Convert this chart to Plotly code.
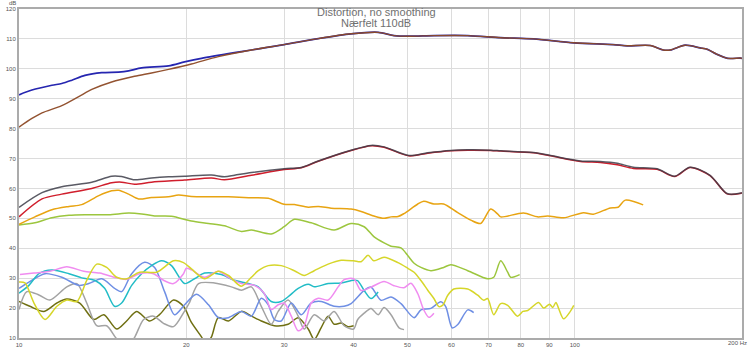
import plotly.graph_objects as go

# ---- data (frequency in Hz, level in dB) ----
blue_f = [10, 10.55, 11.46, 11.94, 12.45, 13.14, 14.09, 15.11, 15.75, 16.62, 18.58, 19.86, 21.3, 24.42, 26.19,
          30, 34.56, 39.59, 44.28, 47.3, 50.3, 55.8, 64.2, 73.6, 84.3, 99.6, 117.3, 124.3, 136.7, 144.3,
          148.6, 158.0, 168.1, 173.3, 180.0, 188.5, 198.5, 200]
blue_db = [91.3, 92.9, 94.5, 95.1, 96.2, 97.8, 98.7, 98.9, 99.3, 100.3, 101.0, 102.3, 103.5, 105.4, 106.3,
           108.1, 110.1, 111.7, 112.2, 111.1, 110.9, 111.1, 111.1, 110.4, 110.0, 108.7, 108.1, 107.7, 107.8, 106.3,
           106.3, 107.9, 107.0, 106.5, 104.9, 103.5, 103.6, 103.5]

brown_f = [10, 10.55, 11.0, 11.94, 12.81, 13.52, 14.68, 16.14, 17.32, 18.58, 20.43, 22.84, 26.19,
           30, 34.56, 39.59, 44.28, 47.3, 50.3, 55.8, 64.2, 73.6, 84.3, 99.6, 117.3, 124.3, 136.7, 144.3,
           148.6, 158.0, 168.1, 173.3, 180.0, 188.5, 198.5, 200]
brown_db = [80.5, 83.4, 85.3, 87.7, 90.7, 93.1, 95.6, 97.5, 98.6, 99.8, 101.6, 104.1, 106.3,
            108.1, 110.1, 111.7, 112.2, 111.1, 110.9, 111.1, 111.1, 110.4, 110.0, 108.7, 108.1, 107.7, 107.8, 106.3,
            106.3, 107.9, 107.0, 106.5, 104.9, 103.5, 103.6, 103.5]

thd_f = [10, 11.0, 11.94, 13.52, 14.68, 15.3, 16.14, 17.32, 18.58, 19.86, 22.2, 23.42, 24.42, 26.19, 30,
         32.2, 34.56, 39.59, 43.0, 45.39, 50.3, 54.4, 59.84, 64.2, 70.6, 73.6, 84.3, 90.5, 102.4, 111.2,
         119.3, 127.5, 140.7, 151.3, 161.3, 175.2, 188.0, 198.5, 200]
thd_db = [53.7, 58.6, 60.6, 62.1, 64.1, 64.0, 62.9, 63.5, 63.9, 64.1, 64.5, 63.9, 64.4, 65.3, 66.6,
          67.0, 69.2, 72.8, 74.4, 73.9, 71.0, 71.9, 72.7, 72.9, 72.8, 72.6, 72.0, 71.0, 69.2, 69.0,
          68.4, 67.1, 66.6, 64.1, 67.1, 64.4, 58.3, 58.4, 58.6]

h2_f = [10, 11.0, 11.94, 13.52, 14.68, 15.3, 16.14, 17.32, 19.86, 22.2, 23.42, 26.19, 30, 32.2, 34.56,
        39.59, 43.0, 45.39, 50.3, 54.4, 59.84, 64.2, 70.6, 73.6, 84.3, 90.5, 102.4, 111.2, 119.3, 127.5,
        140.7, 151.3, 161.3, 175.2, 188.0, 198.5, 200]
h2_db = [50.5, 56.5, 58.1, 60.0, 61.9, 62.1, 61.4, 62.1, 62.8, 63.5, 62.9, 64.4, 66.3, 66.9, 69.1,
         72.7, 74.3, 73.8, 70.9, 71.8, 72.6, 72.8, 72.7, 72.5, 71.9, 70.9, 69.0, 68.7, 67.9, 66.7,
         66.4, 64.0, 67.0, 64.3, 58.2, 58.3, 58.5]

h3_f = [10, 10.68, 11.46, 12.3, 12.97, 13.92, 14.68, 15.11, 15.75, 16.41, 17.32, 18.58, 19.37, 20.43, 21.93,
        23.81, 26.19, 28.09, 30, 31.3, 33.15, 34.56, 36.45, 39.59, 41.27, 43.5, 45.39, 46.71, 48.1, 49.3,
        52.2, 53.5, 55.8, 58.1, 61.6, 65.0, 67.74, 70.6, 72.7, 73.6, 80.9, 85.7, 89.4, 95.5, 103.7,
        108.0, 115.9, 119.7, 123.3, 132.8]
h3_db = [48.0, 50.5, 52.9, 54.0, 54.6, 57.6, 59.2, 59.4, 58.1, 56.5, 57.0, 57.2, 57.8, 57.3, 57.2,
         57.2, 56.9, 56.7, 54.7, 54.6, 53.7, 54.0, 53.4, 53.1, 52.3, 50.8, 50.0, 50.5, 50.6, 51.6,
         54.8, 55.7, 54.8, 54.8, 51.9, 49.4, 48.3, 53.1, 51.4, 50.5, 51.8, 50.5, 50.8, 50.2, 51.9,
         51.4, 53.5, 53.7, 56.1, 54.5]

h4_f = [10, 10.68, 11.46, 12.3, 13.14, 14.5, 15.75, 16.62, 17.54, 18.81, 20.43, 21.93, 23.42, 25.13, 26.19,
        28.44, 30, 31.3, 33.56, 36.9, 39.59, 41.79, 43.5, 45.39, 46.71, 48.68, 50.1, 51.4, 52.88, 55.11,
        58.1, 59.84, 64.2, 69.7, 71.5, 73.6, 75.75, 76.7, 79.6]
h4_db = [47.8, 48.5, 50.2, 51.0, 51.2, 51.2, 51.8, 51.5, 50.8, 50.7, 49.1, 48.3, 47.5, 45.6, 46.1,
         44.8, 47.2, 49.7, 48.5, 46.1, 48.3, 47.2, 43.9, 41.8, 40.7, 40.1, 37.5, 35.0, 33.6, 32.5,
         33.6, 34.5, 32.5, 29.8, 30.3, 35.8, 32.0, 30.3, 31.2]

h5_f = [10, 10.25, 10.64, 11.14, 11.70, 12.19, 12.71, 13.24, 13.80, 14.38, 14.99, 15.62, 16.48, 17.69, 18.97,
        19.77, 20.43, 21.57, 22.84, 23.81, 25.13, 26.19, 26.95, 28.09, 29.64, 31.3, 32.6, 33.98, 36.0, 37.99,
        40, 41.27, 42.47, 43.5, 45.39, 48.1, 50.1, 51.4, 52.88, 54.43, 55.8, 56.95, 57.9, 59.1, 60.6,
        64.2, 66.9, 68.6, 69.7, 71.5, 73.6, 75.75, 78.9, 80.7, 82.3, 86.1, 87.9, 90.1, 91.3, 92.5,
        93.5, 95.5, 98.2, 99.6]
h5_db = [28.7, 28.4, 21.7, 16.2, 20.6, 22.7, 22.2, 29.3, 34.7, 33.6, 30.3, 29.8, 32.0, 32.0, 35.8,
         35.2, 33.1, 29.8, 32.3, 30.9, 27.3, 30.3, 32.5, 34.2, 34.2, 32.5, 30.9, 32.5, 34.7, 36.0,
         35.8, 35.5, 37.7, 35.8, 37.0, 35.2, 33.3, 32.0, 29.2, 25.9, 23.2, 20.5, 21.0, 24.3, 26.4,
         26.4, 24.3, 22.6, 23.2, 17.8, 21.5, 20.9, 17.3, 18.9, 19.2, 21.9, 20.0, 21.3, 20.2, 21.9,
         20.0, 16.4, 18.9, 20.9]

h6_f = [10.04, 10.64, 11.37, 12.19, 13.08, 13.97, 14.99, 15.62, 16.48, 17.46, 18.2, 18.97, 19.77, 20, 20.43,
        21.57, 22.84, 23.81, 25.13, 26.52, 27.63, 28.44, 29.27, 30, 30.9, 31.8, 32.6, 33.56, 34.56, 36.0,
        37.52, 38.46, 40, 41.27, 43.0, 45.39, 47.29, 49.3, 50.74, 52.2, 53.5, 54.66, 55.8]
h6_db = [31.2, 31.7, 32.3, 33.8, 32.3, 31.7, 30.1, 29.6, 31.5, 31.5, 29.3, 28.2, 31.5, 33.3, 32.8,
         30.3, 32.3, 30.3, 28.2, 27.6, 24.9, 19.5, 21.1, 21.7, 17.3, 12.4, 14.1, 21.7, 23.3, 22.7,
         27.1, 29.5, 29.8, 25.9, 27.0, 28.9, 27.5, 26.8, 28.3, 24.8, 19.4, 16.9, 18.3]

h7_f = [10, 10.42, 10.86, 11.46, 12.3, 12.97, 13.69, 14.26, 14.86, 15.30, 15.95, 16.62, 17.32, 18.05, 18.81,
        19.86, 20.69, 21.57, 23.13, 24.41, 25.87, 26.95, 28.44, 29.64, 30.5, 31.8, 33.15, 33.98, 36.0, 37.99,
        40, 40.67, 41.79, 43.0, 44.28]
h7_db = [25.0, 27.6, 31.5, 32.7, 31.5, 30.1, 29.3, 26.6, 20.6, 21.7, 27.6, 31.5, 34.2, 35.8, 34.2,
         28.2, 29.8, 31.7, 31.2, 29.3, 28.2, 27.1, 22.2, 22.2, 23.8, 26.6, 28.0, 27.1, 28.2, 28.4,
         29.3, 29.2, 25.9, 23.2, 25.4]

h8_f = [10, 10.42, 11.14, 11.94, 12.81, 13.35, 14.09, 14.86, 15.30, 15.95, 16.83, 17.54, 18.28, 19.05, 19.86,
        20.86, 21.93, 22.84, 23.81, 25.13, 26.19, 27.29, 28.09, 28.8, 29.64, 30.9, 32.2, 33.56, 34.98, 36.9,
        38.46, 39.59, 41.79, 43.0, 44.82, 46.71, 48.68, 51.4, 52.88, 55.11, 57.42, 58.6, 60.2, 61.6, 64.2,
        65.8]
h8_db = [26.6, 28.7, 31.5, 30.3, 27.6, 28.2, 29.8, 26.6, 25.5, 31.5, 35.3, 33.6, 25.5, 17.8, 21.1,
         24.6, 21.1, 16.8, 16.8, 18.9, 17.3, 23.3, 21.1, 16.2, 15.7, 21.7, 17.8, 21.7, 22.2, 20.6,
         20.6, 21.5, 25.9, 27.0, 22.6, 23.7, 21.5, 16.8, 19.4, 19.9, 22.1, 20.5, 13.4, 14.5, 19.4,
         18.5]

h9_f = [10, 10.33, 10.86, 11.37, 12.19, 12.71, 13.24, 13.80, 14.38, 14.99, 15.5, 16.08, 16.76, 17.46, 18.2,
        18.97, 19.77, 20.25, 21.04, 22.48, 24.11, 25.13, 26.19, 27.29, 28.44, 29.27, 30.5, 31.8, 32.6, 33.98,
        35.42, 36.9, 38.46, 40, 40.67, 41.79, 43.0, 44.28, 45.39, 46.71, 48.3, 49.3]
h9_db = [19.5, 25.5, 24.4, 22.7, 27.1, 28.2, 21.7, 14.1, 14.1, 9.7, 7.5, 9.7, 16.2, 17.3, 14.9,
         13.8, 18.4, 21.7, 28.2, 28.4, 27.1, 26.0, 27.1, 20.6, 14.6, 18.9, 22.7, 17.3, 13.0, 17.8,
         15.7, 18.9, 14.1, 13.0, 16.1, 18.3, 19.9, 17.8, 20.2, 17.8, 13.4, 12.8]

h10_f = [10, 10.46, 11.09, 11.70, 12.19, 12.86, 13.63, 14.21, 14.99, 15.62, 16.28, 17.18, 17.9, 18.97, 19.77,
         20.43, 21.3, 21.7, 22.2, 22.84, 23.81, 25.13, 26.19, 27.29, 28.8, 30.5, 31.8, 33.15, 33.98, 34.98,
         36.0, 36.9, 37.99, 39.1, 40]
h10_db = [22.2, 20.6, 18.9, 21.7, 23.0, 21.7, 16.2, 17.8, 13.0, 15.7, 18.9, 15.7, 17.8, 22.7, 20.6,
          15.2, 10.4, 8.0, 10.4, 16.8, 15.7, 18.9, 17.3, 15.7, 14.1, 14.6, 16.8, 13.0, 9.5, 13.5,
          17.3, 14.6, 15.0, 13.8, 14.1]

x_ticks = [10, 20, 30, 40, 50, 60, 70, 80, 90, 100]
x_tick_text = ["10", "20", "30", "40", "50", "60", "70", "80", "90", "100"]
y_ticks = [10, 20, 30, 40, 50, 60, 70, 80, 90, 100, 110, 120]
title_lines = ["Distortion, no smoothing", "Nærfelt 110dB"]

# ---- figure ----
series = [
    (h10_f, h10_db, "#6f6f12", 1.5, 1.0),
    (h9_f, h9_db, "#a3a3a3", 1.5, 1.0),
    (h8_f, h8_db, "#6f8fe4", 1.5, 1.0),
    (h7_f, h7_db, "#22bcc6", 1.5, 1.0),
    (h6_f, h6_db, "#f08cf0", 1.5, 1.0),
    (h5_f, h5_db, "#d6d62a", 1.5, 1.0),
    (h4_f, h4_db, "#9cc63e", 1.5, 1.0),
    (h3_f, h3_db, "#e8a412", 1.5, 1.0),
    (h2_f, h2_db, "#d01e2c", 1.5, 1.0),
    (thd_f, thd_db, "#3e3e4a", 1.5, 0.85),
    (blue_f, blue_db, "#2626b0", 1.7, 1.0),
    (brown_f, brown_db, "#8e4a26", 1.4, 0.95),
]

fig = go.Figure()
for fx, dy, col, w, op in series:
    fig.add_trace(go.Scatter(x=fx, y=dy, mode="lines", opacity=op,
                             line=dict(color=col, width=w, shape="spline", smoothing=0.8),
                             hoverinfo="skip"))

font_family = "Liberation Sans, Arial, sans-serif"
axis_common = dict(showgrid=True, gridcolor="#dcdcdc", gridwidth=1, showline=True,
                   linecolor="#ababab", linewidth=2, mirror=True, ticks="", zeroline=False,
                   tickfont=dict(family=font_family, size=6, color="#555555"))

fig.update_layout(
    width=750, height=354,
    margin=dict(l=17, r=8, t=6, b=10),
    paper_bgcolor="white", plot_bgcolor="white",
    showlegend=False,
    xaxis=dict(type="log", range=[1, 2.30103], tickvals=x_ticks, ticktext=x_tick_text, **axis_common),
    yaxis=dict(range=[10, 120], tickvals=y_ticks, **axis_common),
)

fig.add_annotation(text=title_lines[0], x=0.4938, y=0.991, xref="paper", yref="paper",
                   xanchor="center", yanchor="middle",
                   showarrow=False, font=dict(family=font_family, size=11, color="#707070"))
fig.add_annotation(text=title_lines[1], x=0.4938, y=0.956, xref="paper", yref="paper",
                   xanchor="center", yanchor="middle",
                   showarrow=False, font=dict(family=font_family, size=11, color="#707070"))
fig.add_annotation(text="dB", x=-0.002, y=1.0, xref="paper", yref="paper", xanchor="right",
                   yanchor="bottom", yshift=1,
                   showarrow=False, font=dict(family=font_family, size=6, color="#555555"))
fig.add_annotation(text="200 Hz", x=1.0097, y=-0.016, xref="paper", yref="paper", xanchor="right",
                   yanchor="middle",
                   showarrow=False, font=dict(family=font_family, size=6, color="#555555"))

fig.write_html("out.html")
